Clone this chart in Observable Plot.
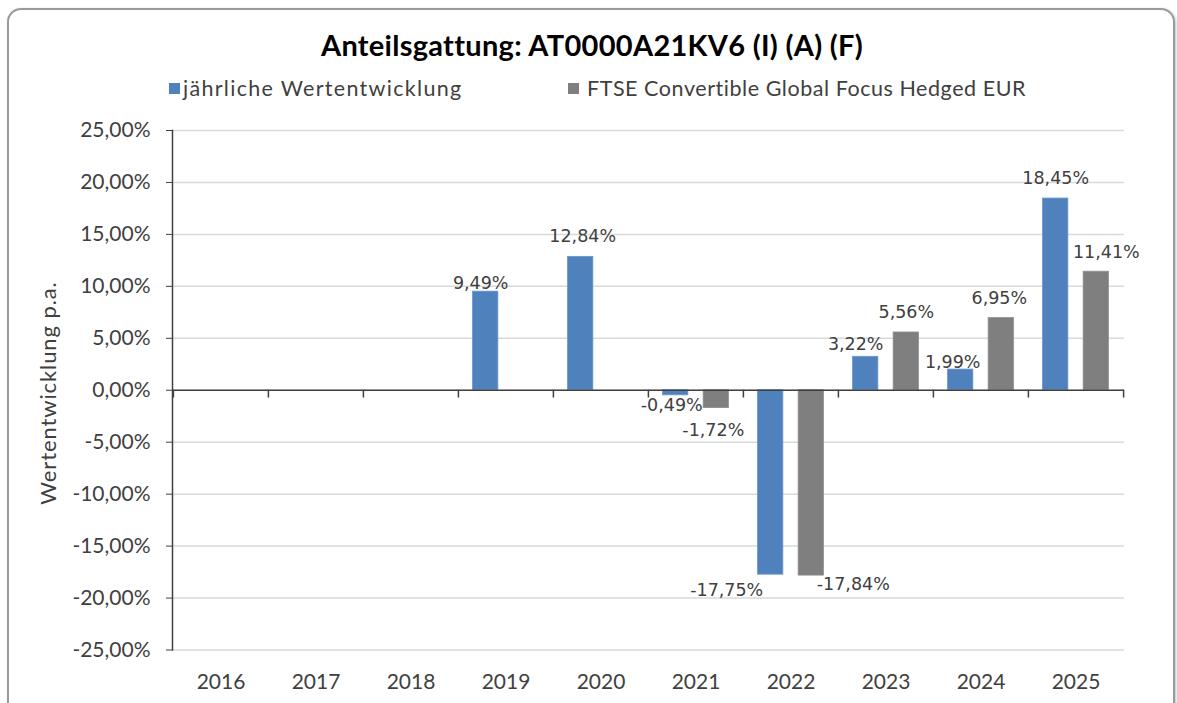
<!DOCTYPE html>
<html>
<head>
<meta charset="utf-8">
<script src="https://cdn.jsdelivr.net/npm/d3@7"></script>
<script src="https://cdn.jsdelivr.net/npm/@observablehq/plot@0.6"></script>
<style>
  html, body { margin: 0; padding: 0; background: #fff; overflow: hidden; }
  body { width: 1177px; height: 703px; position: relative; font-family: Lato, "Open Sans", sans-serif; }
  #frame { position: absolute; left: 7px; top: 8px; width: 1164px; height: 720px; border: 2px solid #9a9a9a; border-radius: 14px; box-shadow: 1px 1px 3px rgba(0,0,0,0.25); }
  #title { position: absolute; left: 0; width: 1184px; top: 26px; text-align: center; font-weight: bold; font-size: 29px; letter-spacing: 0.3px; color: #000; line-height: 38px; }
  .leg { position: absolute; top: 76px; font-size: 21.5px; color: #404040; line-height: 24px; white-space: nowrap; }
  .sw { position: absolute; width: 11px; height: 11px; top: 83px; }
  #ylabel { position: absolute; left: 47px; top: 393px; transform: translate(-50%, -50%) rotate(-90deg); font-size: 22px; letter-spacing: 0.9px; color: #404040; white-space: nowrap; }
  #chart { position: absolute; left: 0; top: 110px; }
</style>
</head>
<body>
<div id="frame"></div>
<div id="title"></div>
<div id="legend"></div>
<div id="ylabel"></div>
<div id="chart"></div>
<script>
// ---- data ----
const years = ["2016", "2017", "2018", "2019", "2020", "2021", "2022", "2023", "2024", "2025"];
const fundReturns = [null, null, null, 9.49, 12.84, -0.49, -17.75, 3.22, 1.99, 18.45];
const benchmarkReturns = [null, null, null, null, null, -1.72, -17.84, 5.56, 6.95, 11.41];
const seriesNames = ["jährliche Wertentwicklung", "FTSE Convertible Global Focus Hedged EUR"];
const yTicks = [-25, -20, -15, -10, -5, 0, 5, 10, 15, 20, 25];
const titleText = "Anteilsgattung: AT0000A21KV6 (I) (A) (F)";
const yLabelText = "Wertentwicklung p.a.";

// ---- layout (label nudges in px: [dx, dy]) ----
const fundNudge = [null, null, null, [-5, -3], [2, -15], [-4, 3], [-44, 9], [-10, -6.5], [-8, -1.5], [0, -15]];
const benchNudge = [null, null, null, null, null, [-3, 15], [42, 2], [0, -14], [-2, -14], [10, -13.5]];
const colors = ["#4f81bd", "#7f7f7f"];
const legPos = [[169, 183, 1.3], [568, 587, 0.55]];

document.getElementById("title").textContent = titleText;
document.getElementById("ylabel").textContent = yLabelText;
const legend = document.getElementById("legend");
seriesNames.forEach((name, i) => {
  const sw = document.createElement("div");
  sw.className = "sw"; sw.style.left = legPos[i][0] + "px"; sw.style.background = colors[i];
  legend.appendChild(sw);
  const t = document.createElement("div");
  t.className = "leg"; t.style.left = legPos[i][1] + "px"; t.style.letterSpacing = legPos[i][2] + "px";
  t.textContent = name;
  legend.appendChild(t);
});

const fmt = v => v.toFixed(2).replace(".", ",") + "%";

const fundData = years.map((y, i) => ({year: y, value: fundReturns[i], nudge: fundNudge[i]})).filter(d => d.value != null);
const benchData = years.map((y, i) => ({year: y, value: benchmarkReturns[i], nudge: benchNudge[i]})).filter(d => d.value != null);

const W = 1177, H = 593, mt = 20, mb = 53.5, ml = 172, mr = 53;
const bw = (W - ml - mr) / years.length;
const barW = 25.5;
const inset = (bw - barW) / 2;
const off = 20.3;

function labelMarks(data, dxBase) {
  return data.map(d => Plot.text([d], {
    x: "year", y: "value", text: d => fmt(d.value),
    dx: dxBase + d.nudge[0], dy: d.nudge[1],
    lineAnchor: d.value >= 0 ? "bottom" : "top",
    textAnchor: "middle",
    fontFamily: "DejaVu Sans", fontSize: 17.5, fill: "#404040"
  }));
}

const chart = Plot.plot({
  width: W, height: H,
  marginTop: mt, marginBottom: mb, marginLeft: ml, marginRight: mr,
  style: {fontFamily: "Lato, sans-serif", fontSize: "21px", color: "#404040", background: "transparent", overflow: "visible"},
  x: {type: "band", domain: years, padding: 0},
  y: {domain: [-25, 25]},
  marks: [
    Plot.gridY(yTicks, {stroke: "#d9d9d9", strokeOpacity: 1, strokeWidth: 1.5}),
    Plot.barY(fundData, {x: "year", y: "value", fill: colors[0], stroke: "#6b96cc", strokeWidth: 0.8, insetLeft: inset, insetRight: inset, dx: -off}),
    Plot.barY(benchData, {x: "year", y: "value", fill: colors[1], stroke: "#8f8f8f", strokeWidth: 0.8, insetLeft: inset, insetRight: inset, dx: off}),
    Plot.ruleY([0], {stroke: "#404040", strokeWidth: 1.5}),
    Plot.ruleX(years, {x: d => d, y1: 0, y2: -0.75, dx: -bw / 2, stroke: "#404040", strokeWidth: 1.5}),
    Plot.ruleX([years[years.length - 1]], {x: d => d, y1: 0, y2: -0.75, dx: bw / 2, stroke: "#404040", strokeWidth: 1.5}),
    Plot.frame({anchor: "left", stroke: "#404040", strokeWidth: 1.5}),
    Plot.axisY({ticks: yTicks, tickFormat: fmt, tickSize: 6, tickPadding: 16, label: null, stroke: "#404040", fill: "#404040"}),
    Plot.axisX({tickSize: 0, tickPadding: 24, label: null, fill: "#404040"}),
    ...labelMarks(fundData, -off),
    ...labelMarks(benchData, off)
  ]
});
document.getElementById("chart").appendChild(chart);
</script>
</body>
</html>
